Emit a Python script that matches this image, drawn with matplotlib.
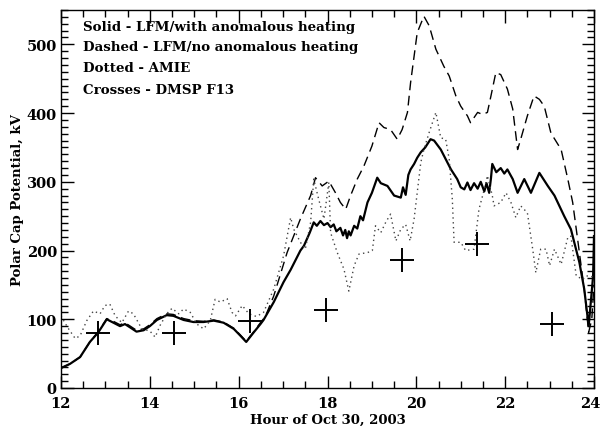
import matplotlib
matplotlib.use("Agg")
import matplotlib.pyplot as plt
import matplotlib.transforms as mtransforms
from matplotlib.ticker import MultipleLocator, FixedLocator, FixedFormatter

# Solid - LFM/with anomalous heating
solid_h = [12.0, 12.2, 12.43, 12.65, 12.84, 13.03, 13.18, 13.33, 13.44, 13.56, 13.7, 13.86,
           14.0, 14.16, 14.38, 14.53, 14.76, 14.98, 15.21, 15.44, 15.66, 15.89, 16.04, 16.17,
           16.34, 16.49, 16.56, 16.79, 17.01, 17.17, 17.39, 17.47, 17.6, 17.69, 17.76, 17.84,
           17.92, 18.0, 18.07, 18.14, 18.2, 18.29, 18.35, 18.4, 18.44, 18.48, 18.52, 18.6,
           18.67, 18.74, 18.8, 18.9, 19.0, 19.12, 19.2, 19.35, 19.5, 19.65, 19.7, 19.76,
           19.82, 19.87, 19.95, 20.02, 20.1, 20.2, 20.32, 20.4, 20.55, 20.78, 20.92, 21.0,
           21.08, 21.15, 21.22, 21.3, 21.38, 21.45, 21.53, 21.58, 21.64, 21.68, 21.71, 21.8,
           21.9, 21.98, 22.05, 22.17, 22.28, 22.43, 22.58, 22.77, 22.96, 23.11, 23.33, 23.48,
           23.67, 23.78, 23.88, 23.98, 24.0]
solid_v = [29, 35, 45, 67, 81, 100, 95, 90, 93, 88, 82, 84,
           90, 99, 106, 105, 99, 96, 96, 98, 95, 86, 76, 67,
           81, 93, 99, 125, 154, 172, 200, 207, 226, 241, 236, 243,
           237, 240, 234, 238, 228, 233, 222, 230, 218, 228, 222, 236,
           232, 250, 244, 270, 284, 306, 298, 294, 280, 277, 292, 281,
           310, 318, 326, 335, 343, 350, 362, 360, 347, 318, 304, 292,
           289, 299, 288, 298, 290, 300, 286, 298, 284, 305, 326, 314,
           320, 312, 318, 304, 284, 304, 284, 313, 294, 280, 250, 231,
           183, 144, 90, 163, 221]

# Dashed - LFM/no anomalous heating
dashed_h = [12.0, 12.2, 12.43, 12.65, 12.84, 13.03, 13.18, 13.33, 13.44, 13.56, 13.7, 13.86,
            14.0, 14.16, 14.38, 14.53, 14.76, 14.98, 15.21, 15.44, 15.66, 15.89, 16.04, 16.17,
            16.34, 16.49, 16.6, 16.79, 17.09, 17.39, 17.62, 17.73, 17.88, 18.03, 18.18, 18.29,
            18.41, 18.52, 18.67, 18.82, 19.0, 19.16, 19.27, 19.42, 19.57, 19.68, 19.8, 19.87,
            20.02, 20.17, 20.29, 20.44, 20.62, 20.74, 20.89, 21.0, 21.15, 21.22, 21.38, 21.49,
            21.6, 21.68, 21.79, 21.9, 22.05, 22.17, 22.28, 22.35, 22.5, 22.65, 22.77, 22.88,
            23.03, 23.26, 23.41, 23.52, 23.63, 23.78, 23.88, 23.95, 24.0]
dashed_v = [29, 35, 45, 67, 82, 101, 97, 92, 95, 90, 84, 86,
            92, 101, 108, 107, 101, 98, 97, 99, 96, 87, 77, 68,
            82, 95, 104, 134, 197, 246, 280, 306, 294, 301, 284, 270,
            260, 280, 304, 323, 352, 386, 379, 376, 362, 376, 401, 444,
            517, 541, 527, 493, 468, 454, 425, 410, 396, 386, 401, 398,
            401, 425, 459, 456, 435, 406, 347, 362, 396, 425, 420, 410,
            371, 347, 304, 270, 217, 144, 81, 100, 150]

# Dotted - AMIE
dotted_h = [12.0, 12.15, 12.32, 12.43, 12.58, 12.73, 12.88, 12.99, 13.1, 13.22, 13.37, 13.52,
            13.63, 13.82, 14.0, 14.12, 14.23, 14.38, 14.5, 14.65, 14.76, 14.91, 15.06, 15.21,
            15.36, 15.47, 15.59, 15.74, 15.85, 15.93, 16.08, 16.23, 16.4, 16.56, 16.79, 17.01,
            17.17, 17.24, 17.39, 17.5, 17.62, 17.69, 17.8, 17.92, 18.03, 18.07, 18.22, 18.37,
            18.48, 18.6, 18.71, 18.9, 19.01, 19.08, 19.2, 19.31, 19.42, 19.54, 19.65, 19.76,
            19.86, 19.95, 20.1, 20.17, 20.29, 20.44, 20.55, 20.66, 20.74, 20.81, 20.85, 21.0,
            21.11, 21.3, 21.41, 21.53, 21.6, 21.71, 21.75, 21.9, 22.02, 22.13, 22.24, 22.35,
            22.5, 22.62, 22.69, 22.8, 22.92, 23.0, 23.11, 23.26, 23.41, 23.48, 23.6, 23.75,
            23.82, 23.93, 24.0]
dotted_v = [105, 88, 72, 76, 98, 112, 108, 120, 122, 105, 95, 112,
            108, 86, 83, 74, 91, 108, 116, 108, 115, 110, 93, 86,
            98, 129, 125, 130, 110, 105, 120, 108, 104, 110, 144, 192,
            248, 231, 212, 202, 241, 304, 275, 246, 299, 226, 197, 173,
            141, 178, 195, 197, 200, 236, 226, 241, 253, 214, 231, 238,
            214, 246, 328, 347, 372, 401, 364, 362, 333, 275, 212, 212,
            200, 202, 260, 289, 309, 280, 265, 270, 284, 270, 248, 265,
            255, 202, 168, 202, 202, 178, 202, 180, 219, 221, 163, 158,
            163, 163, 160]

# Crosses - DMSP F13
dmsp_h = [12.84, 14.55, 16.26, 17.96, 19.67, 21.36, 23.05]
dmsp_v = [80, 80, 98, 114, 186, 209, 93]

x_ticks = [12, 14, 16, 18, 20, 22, 24]
x_tick_labels = ["12", "14", "16", "18", "20", "22", "24"]

legend_lines = ["Solid - LFM/with anomalous heating",
                "Dashed - LFM/no anomalous heating",
                "Dotted - AMIE",
                "Crosses - DMSP F13"]

plt.rcParams['font.family'] = ['DejaVu Serif']
plt.rcParams['font.weight'] = 'bold'

fig = plt.figure(figsize=(6.02, 4.27), dpi=100)
ax = fig.add_axes([61/602, 1-389/427, (594-61)/602, (389-11)/427])

ax.plot(solid_h, solid_v, color='black', lw=1.6, ls='-')
ax.plot(dashed_h, dashed_v, color='black', lw=1.0, ls=(0, (7, 4)))
ax.plot(dotted_h, dotted_v, color='#444444', lw=1.0, ls=(0, (1, 2.5)))
ax.plot(dmsp_h, dmsp_v, ls='none', marker='+', ms=17, mew=1.4, color='black')

ax.set_xlim(12, 24)
ax.set_ylim(0, 550)
ax.xaxis.set_major_locator(FixedLocator(x_ticks))
# last label drawn separately so it stays inside the canvas
ax.xaxis.set_major_formatter(FixedFormatter(x_tick_labels[:-1] + [""]))
ax.xaxis.set_minor_locator(MultipleLocator(0.5))
ax.yaxis.set_major_locator(MultipleLocator(100))
ax.yaxis.set_minor_locator(MultipleLocator(10))
ax.tick_params(which='both', direction='in', top=True, right=True, width=1.0)
ax.tick_params(which='major', length=9, labelsize=10.5)
ax.tick_params(axis='y', which='major', pad=3)
ax.tick_params(axis='x', which='major', pad=6)
ax.tick_params(which='minor', length=5)
for s in ax.spines.values():
    s.set_linewidth(1.0)

last_tf = mtransforms.blended_transform_factory(ax.transData, ax.transAxes) + \
    mtransforms.ScaledTranslation(-4/100, -6/72 - 0.0, fig.dpi_scale_trans)
ax.text(x_ticks[-1], 0, x_tick_labels[-1], transform=last_tf, fontsize=10.5,
        fontweight='bold', ha='center', va='top', clip_on=False)

ax.set_xlabel("Hour of Oct 30, 2003", fontsize=9.5, fontweight='bold', labelpad=2)
ax.set_ylabel("Polar Cap Potential, kV", fontsize=9.5, fontweight='bold', labelpad=2)

for i, t in enumerate(legend_lines):
    fig.text(83/602, 1 - (27 + 21*i)/427, t, fontsize=9.6, fontweight='bold',
             va='center', ha='left')

fig.savefig("out.png", dpi=100)
